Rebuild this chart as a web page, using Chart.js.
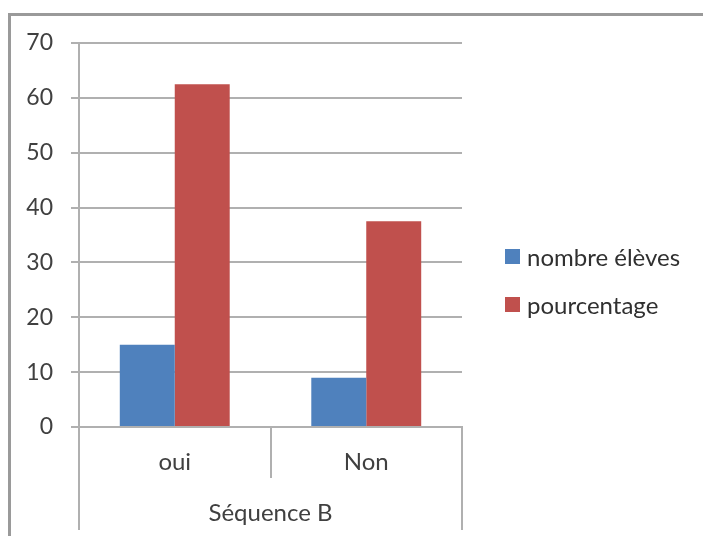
<!DOCTYPE html>
<html>
<head>
<meta charset="utf-8">
<script src="https://cdn.jsdelivr.net/npm/chart.js@4/dist/chart.umd.min.js"></script>
<style>
  body { margin: 0; background: #fff; }
  #wrap { position: relative; width: 703px; height: 536px; overflow: hidden; font-family: Lato, sans-serif; }
  #frame { position: absolute; left: 8px; top: 13px; width: 800px; height: 600px;
           border-left: 3px solid #9a9a9a; border-top: 3px solid #9a9a9a; }
  canvas { position: absolute; left: 0; top: 0; }
  #legend { position: absolute; left: 505px; top: 242px; }
  .item { display: flex; align-items: center; height: 28px; margin-bottom: 20px;
          font-size: 24px; color: #303030; white-space: nowrap; }
  .box { width: 15px; height: 15px; margin-right: 7px; }
</style>
</head>
<body>
<div id="wrap">
  <div id="frame"></div>
  <canvas id="chart" width="703" height="536"></canvas>
  <div id="legend"></div>
</div>
<script>
// values
const categories = ['oui', 'Non'];
const groupLabels = ['Séquence B'];
const nombreEleves = [15, 9];
const pourcentage = [62.5, 37.5];
const yMin = 0, yMax = 70, yStep = 10;

const lineGrey = '#b0b0b0';
const textGrey = '#404040';
const tickFont = { family: 'Lato', size: 23 };
const catFont = { family: 'Lato', size: 24 };

const chart = new Chart(document.getElementById('chart').getContext('2d'), {
    type: 'bar',
    data: {
        labels: categories,
        datasets: [
            { label: 'nombre élèves', data: nombreEleves, backgroundColor: '#4f81bd' },
            { label: 'pourcentage', data: pourcentage, backgroundColor: '#c0504d' }
        ]
    },
    options: {
        responsive: false,
        animation: false,
        categoryPercentage: 0.574,
        barPercentage: 1,
        layout: { padding: { top: 43, left: 0, right: 241, bottom: 0 } },
        plugins: {
            tooltip: { enabled: false },
            legend: { display: false }
        },
        scales: {
            y: {
                min: yMin, max: yMax,
                ticks: { stepSize: yStep, font: tickFont, color: textGrey, padding: 18 },
                grid: { color: lineGrey, lineWidth: 2, tickLength: 8 },
                border: { color: lineGrey, width: 2 },
                afterFit: s => { s.width = 79; }
            },
            x: {
                ticks: { font: catFont, color: textGrey, padding: -30 },
                grid: { offset: true, drawOnChartArea: false, color: lineGrey, lineWidth: 2, tickLength: 51 },
                border: { color: lineGrey, width: 2 },
                afterFit: s => { s.height = 51; }
            },
            x2: {
                type: 'category', labels: groupLabels, position: 'bottom', offset: true,
                ticks: { font: catFont, color: textGrey, padding: -31 },
                grid: { offset: true, drawOnChartArea: false, color: lineGrey, lineWidth: 2, tickLength: 52 },
                border: { display: false },
                afterFit: s => { s.height = 58; }
            }
        }
    }
});

// legend as html, items taken from chart.js itself
const legendEl = document.getElementById('legend');
Chart.defaults.plugins.legend.labels.generateLabels(chart).forEach(item => {
    const row = document.createElement('div');
    row.className = 'item';
    const box = document.createElement('span');
    box.className = 'box';
    box.style.background = item.fillStyle;
    row.appendChild(box);
    row.appendChild(document.createTextNode(item.text));
    legendEl.appendChild(row);
});
</script>
</body>
</html>
